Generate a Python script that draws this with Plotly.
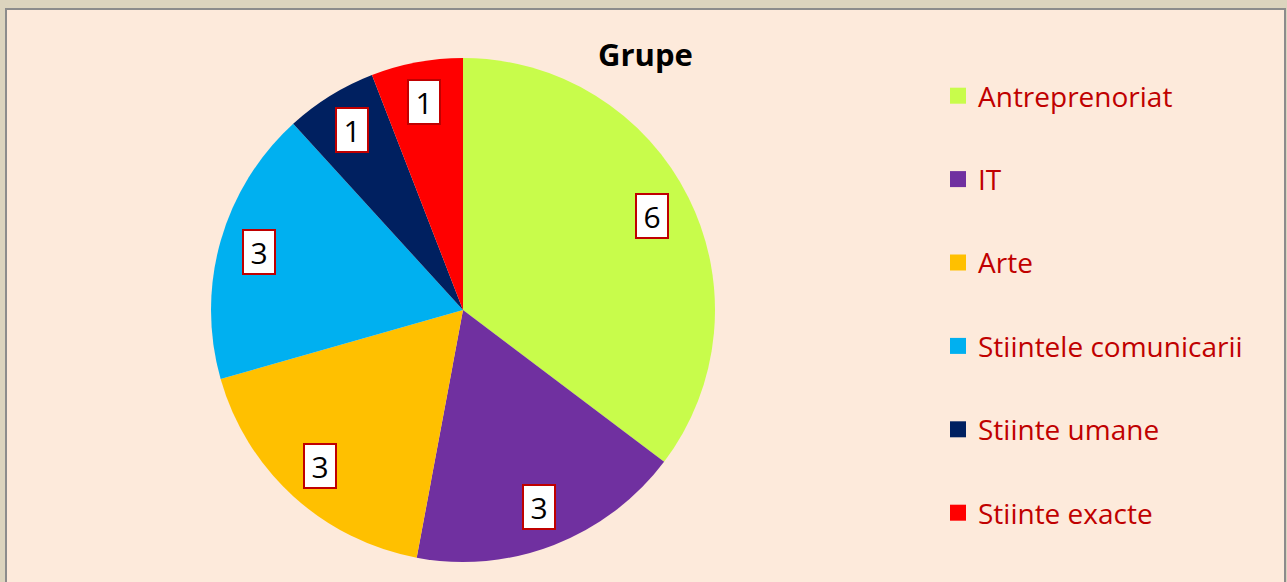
import math
import plotly.graph_objects as go

categories = ["Antreprenoriat", "IT", "Arte", "Stiintele comunicarii", "Stiinte umane", "Stiinte exacte"]
values = [6, 3, 3, 3, 1, 1]
colors = ["#C8FC4B", "#7030A0", "#FFC000", "#00B0F0", "#002060", "#FF0000"]
title_text = "Grupe"

W, H = 1287, 582
BG_OUT = "#DCD4BE"
BG_IN = "#FDEADB"
FONT = "Open Sans, Liberation Sans, sans-serif"

# pie placement (pixels)
cx, cy, R = 463, 310, 252
dom_x = [(cx - R) / W, (cx + R) / W]
dom_y = [(H - cy - R) / H, (H - cy + R) / H]

fig = go.Figure()
fig.add_trace(go.Pie(
    labels=categories, values=values, sort=False, direction="clockwise", rotation=0,
    marker=dict(colors=colors, line=dict(width=0)),
    textinfo="none", hoverinfo="label+value", showlegend=False,
    domain=dict(x=dom_x, y=dom_y),
))

# legend via dummy traces
for i, (c, col) in enumerate(zip(categories, colors)):
    fig.add_trace(go.Scatter(
        x=[None], y=[None], mode="markers", name=c, legendgroup=f"g{i}",
        marker=dict(symbol="square", size=18, color=col),
    ))

# value labels in boxes
total = sum(values)
cum = 0
annotations = []
for v in values:
    frac = (cum + v / 2) / total
    ang = 2 * math.pi * frac
    rr = R * 0.84
    px = cx + rr * math.sin(ang)
    py = cy - rr * math.cos(ang)
    annotations.append(dict(
        x=px / W, y=1 - py / H, xref="paper", yref="paper", text=str(v), showarrow=False,
        font=dict(family=FONT, size=30, color="#000000"),
        bgcolor="#FFFFFF", bordercolor="#C00000", borderwidth=2, borderpad=0,
        width=30, height=42, xanchor="center", yanchor="middle",
    ))
    cum += v

annotations.append(dict(
    x=646 / W, y=1 - 54 / H, xref="paper", yref="paper", text=f"<b>{title_text}</b>", showarrow=False,
    font=dict(family=FONT, size=31, color="#000000"),
    xanchor="center", yanchor="middle",
))

fig.update_layout(
    width=W, height=H,
    margin=dict(l=0, r=0, t=0, b=0),
    paper_bgcolor=BG_OUT, plot_bgcolor="rgba(0,0,0,0)",
    xaxis=dict(visible=False), yaxis=dict(visible=False),
    shapes=[dict(type="rect", xref="paper", yref="paper",
                 x0=6 / W, x1=1285 / W, y0=-0.01, y1=1 - 9 / H,
                 fillcolor=BG_IN, line=dict(color="#8C8C8C", width=2), layer="below")],
    annotations=annotations,
    legend=dict(
        x=938 / W, y=1 - 71 / H, xanchor="left", yanchor="top",
        font=dict(family=FONT, size=28, color="#C00000"),
        tracegroupgap=44, bgcolor="rgba(0,0,0,0)", itemclick=False,
    ),
    showlegend=True,
)

fig.write_html("out.html", config={"displayModeBar": False},
               post_script="document.body.style.margin='0';document.body.style.overflow='hidden';")
